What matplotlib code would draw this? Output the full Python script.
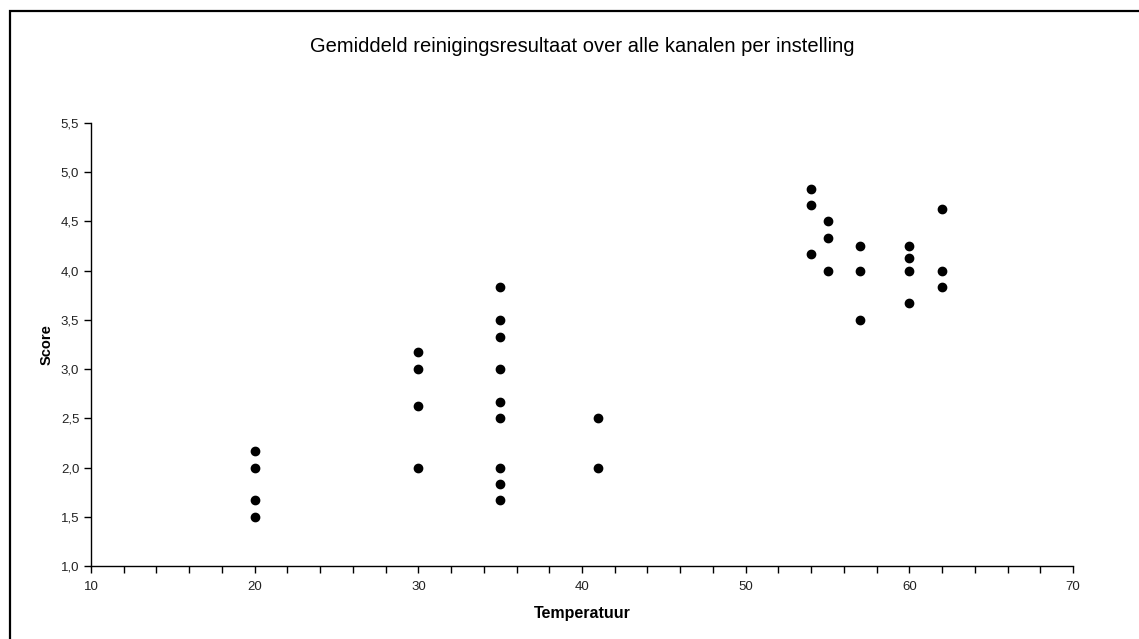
import matplotlib
matplotlib.use("Agg")
import matplotlib.pyplot as plt
from matplotlib.patches import Rectangle
from matplotlib.ticker import MultipleLocator, FuncFormatter

# Gemiddelde score per instelling (temperatuur, score)
temperatuur = [20, 20, 20, 20,
               30, 30, 30, 30,
               35, 35, 35, 35, 35, 35, 35, 35, 35,
               41, 41,
               54, 54, 54,
               55, 55, 55,
               57, 57, 57,
               60, 60, 60, 60,
               62, 62, 62]
score = [2.17, 2.0, 1.67, 1.5,
         3.17, 3.0, 2.63, 2.0,
         3.83, 3.5, 3.33, 3.0, 2.67, 2.5, 2.0, 1.83, 1.67,
         2.5, 2.0,
         4.83, 4.67, 4.17,
         4.5, 4.33, 4.0,
         4.25, 4.0, 3.5,
         4.25, 4.13, 4.0, 3.67,
         4.63, 4.0, 3.83]

titel = "Gemiddeld reinigingsresultaat over alle kanalen per instelling"

plt.rcParams['font.family'] = ['Liberation Sans', 'DejaVu Sans']

fig = plt.figure(figsize=(11.39, 6.39), dpi=100)
W, H = 1139, 639

# kader rond de grafiek (loopt door voorbij rechter- en onderrand)
fig.patches.append(Rectangle((9.5 / W, -0.1), 1.0, 1.1 - 11.5 / H, transform=fig.transFigure,
                             fill=False, edgecolor='black', linewidth=1.6))

ax = fig.add_axes([91 / W, 1 - 566 / H, (1073 - 91) / W, (566 - 123) / H])
ax.plot(temperatuur, score, 'o', color='black', markersize=6, linestyle='none', clip_on=False)

ax.set_xlim(10, 70)
ax.set_ylim(1.0, 5.5)
ax.xaxis.set_major_locator(MultipleLocator(10))
ax.xaxis.set_minor_locator(MultipleLocator(2))
ax.yaxis.set_major_locator(MultipleLocator(0.5))
ax.yaxis.set_major_formatter(FuncFormatter(lambda v, p: f"{v:.1f}".replace('.', ',')))

for s in ['top', 'right']:
    ax.spines[s].set_visible(False)
for s in ['left', 'bottom']:
    ax.spines[s].set_linewidth(1.0)

ax.tick_params(axis='both', which='both', direction='out', length=5, width=1,
               labelsize=9.5, colors='black', labelcolor='#222222')
ax.tick_params(axis='x', pad=6)

ax.set_xlabel("Temperatuur", fontsize=11.5, fontweight='bold', labelpad=9)
ax.set_ylabel("Score", fontsize=10.5, fontweight='bold', labelpad=5)

fig.text((91 + 1073) / 2 / W, 1 - 47 / H, titel, ha='center', va='center', fontsize=14.5)

fig.savefig("out.png", dpi=100)
